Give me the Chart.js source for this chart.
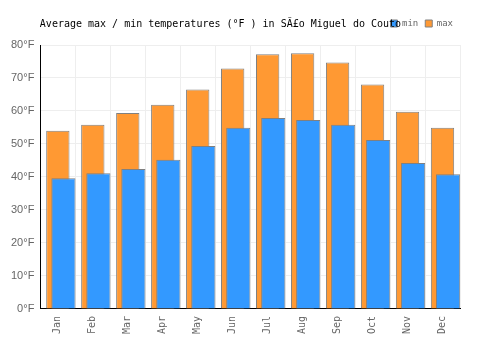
<!DOCTYPE html>
<html>
<head>
<meta charset="utf-8">
<script src="https://cdn.jsdelivr.net/npm/chart.js@4"></script>
<style>
  html, body { margin: 0; padding: 0; background: #fff; }
  #wrap { width: 500px; height: 350px; }
</style>
</head>
<body>
<div id="wrap"><canvas id="grafico"></canvas></div>
<script>
// datos
const meses = ["Jan","Feb","Mar","Apr","May","Jun","Jul","Aug","Sep","Oct","Nov","Dec"];
const tempMin = [39.6, 41.1, 42.4, 45.2, 49.4, 54.9, 57.9, 57.3, 55.8, 51.2, 44.2, 40.8];
const tempMax = [54.0, 55.8, 59.4, 61.9, 66.5, 72.9, 77.2, 77.5, 74.7, 68.0, 59.8, 54.9];
const titulo = "Average max / min temperatures (°F ) in SÃ£o Miguel do Couto    ";

const mono = "'DejaVu Sans Mono', monospace";
const gris = "#808080";

new Chart(document.getElementById("grafico").getContext("2d"), {
    type: "bar",
    data: {
        labels: meses,
        datasets: [
            // hueco vacio para desplazar las barras min a la derecha
            { label: "", data: [], order: 0, categoryPercentage: 0.64, barPercentage: 2.16 },
            { label: "min", data: tempMin, order: 1, backgroundColor: "#3399FF", borderColor: gris, borderWidth: 1,
              categoryPercentage: 0.64, barPercentage: 2.16 },
            { label: "max", data: tempMax, order: 2, backgroundColor: "#FF9933", borderColor: gris, borderWidth: 1,
              grouped: false, categoryPercentage: 1, barPercentage: 0.667 }
        ]
    },
    options: {
        responsive: true,
        maintainAspectRatio: false,
        animation: false,
        layout: { padding: { left: 5, right: 40, bottom: 9 } },
        plugins: {
            title: {
                display: true,
                text: titulo,
                color: "#000",
                font: { family: mono, size: 10, weight: "normal" },
                padding: { top: 18, bottom: -18 }
            },
            // espacio vacio entre la leyenda y el grafico
            subtitle: {
                display: true,
                text: "",
                weight: 500,
                font: { size: 1, lineHeight: 1 },
                padding: { top: 6, bottom: 0 }
            },
            legend: {
                position: "top",
                align: "end",
                labels: {
                    boxWidth: 7, boxHeight: 7, padding: 7, color: "#666",
                    font: { family: mono, size: 9 },
                    filter: item => item.text !== ""
                }
            },
            tooltip: { enabled: false }
        },
        scales: {
            x: {
                grid: { color: "#eeeeee", drawTicks: false },
                border: { color: "#000" },
                ticks: {
                    color: "#666", autoSkip: false, minRotation: 90, maxRotation: 90, padding: 7,
                    font: { family: mono, size: 10 }
                }
            },
            y: {
                min: 0, max: 80,
                grid: { color: "#eeeeee", drawTicks: false },
                border: { color: "#000" },
                ticks: {
                    stepSize: 10, color: "#666", padding: 6,
                    font: { family: "'Liberation Sans', Arial, sans-serif", size: 11 },
                    callback: v => v + "°F"
                }
            }
        }
    }
});
</script>
</body>
</html>
